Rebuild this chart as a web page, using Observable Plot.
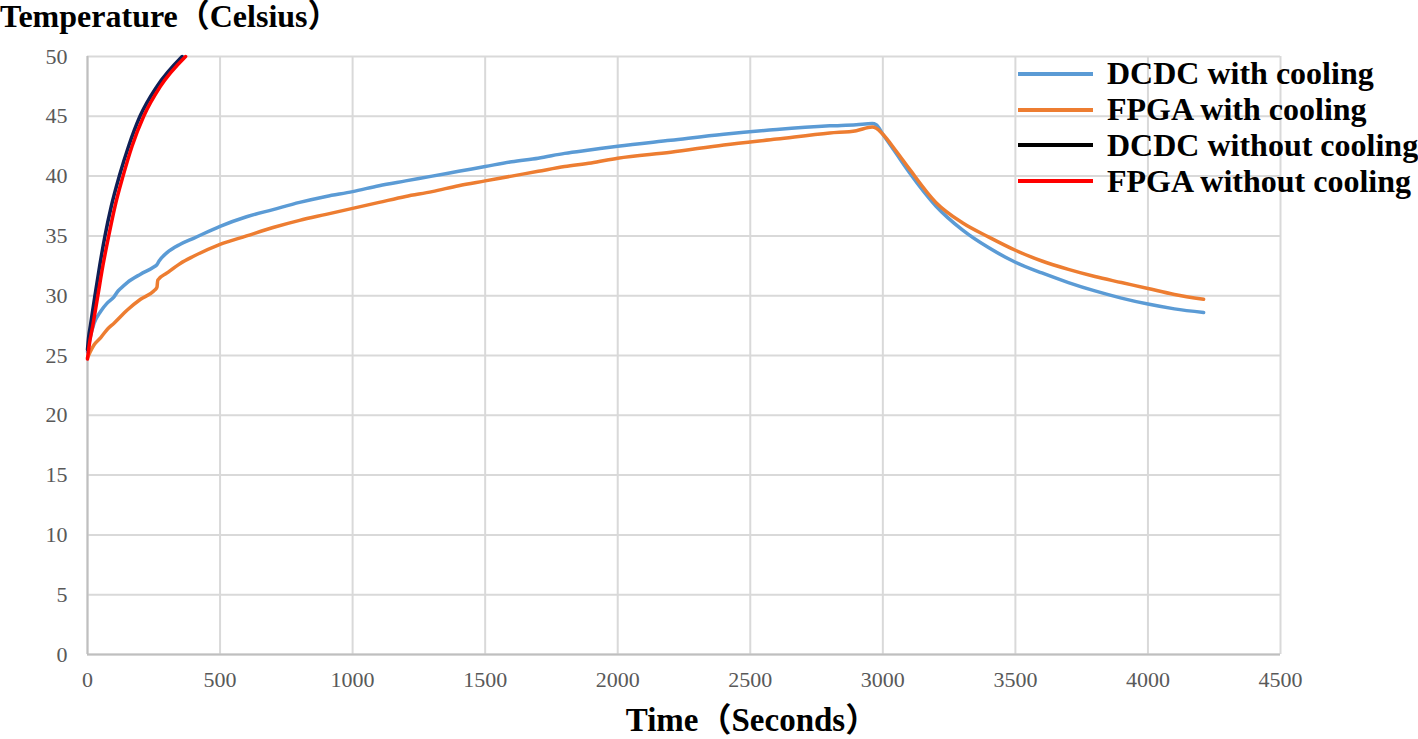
<!DOCTYPE html>
<html>
<head>
<meta charset="utf-8">
<script src="https://cdn.jsdelivr.net/npm/d3@7"></script>
<script src="https://cdn.jsdelivr.net/npm/@observablehq/plot@0.6"></script>
<style>
  html, body { margin: 0; padding: 0; background: #fff; }
  #wrap { position: relative; width: 1418px; height: 739px; overflow: hidden; }
  #title { position: absolute; left: 0; top: 0px; font: bold 32px/32px "Liberation Serif", "Noto Sans CJK SC", serif; color: #000; white-space: nowrap; }
  #chart { position: absolute; left: 0; top: 40px; }
  #xlabel { position: absolute; left: 10px; width: 1484px; top: 704px; text-align: center; font: bold 33px/33px "Liberation Serif", "Noto Sans CJK SC", serif; color: #000; white-space: nowrap; }
  #legend { position: absolute; left: 1018px; top: 56px; font: bold 32px "Liberation Serif", serif; color: #000; }
  #legend .row { display: flex; align-items: center; height: 35.8px; white-space: nowrap; }
  #legend .sw { width: 75px; height: 4px; margin-right: 14px; }
  #chart svg text { font-family: "Liberation Serif", serif; }
</style>
</head>
<body>
<div id="wrap">
  <div id="title">Temperature（Celsius）</div>
  <div id="chart"></div>
  <div id="legend"></div>
  <div id="xlabel">Time（Seconds）</div>
</div>
<script>
const xTicks = [0, 500, 1000, 1500, 2000, 2500, 3000, 3500, 4000, 4500];
const yTicks = [0, 5, 10, 15, 20, 25, 30, 35, 40, 45, 50];

const seriesNames = ["DCDC with cooling", "FPGA with cooling", "DCDC without cooling", "FPGA without cooling"];
const seriesColors = ["#5b9bd5", "#ed7d31", "#0f1f55", "#ff0000"];
const legendColors = ["#5b9bd5", "#ed7d31", "#000000", "#ff0000"];

// DCDC with cooling
const dcdcCoolT = [0, 10, 25, 50, 75, 100, 112, 125, 150, 200, 250, 262, 270, 300, 350, 400, 500, 600, 700, 800, 900, 1000, 1100, 1200, 1300, 1400, 1500, 1600, 1700, 1800, 1900, 2000, 2200, 2400, 2600, 2800, 2900, 2960, 2975, 3000, 3050, 3100, 3200, 3300, 3400, 3500, 3600, 3700, 3800, 3900, 4000, 4100, 4210];
const dcdcCoolV = [25.3, 26.5, 27.7, 28.7, 29.4, 29.9, 30.3, 30.6, 31.1, 31.8, 32.4, 32.6, 32.9, 33.6, 34.3, 34.8, 35.8, 36.6, 37.2, 37.8, 38.3, 38.7, 39.2, 39.6, 40.0, 40.4, 40.8, 41.2, 41.5, 41.9, 42.2, 42.5, 43.0, 43.5, 43.9, 44.2, 44.3, 44.4, 44.3, 43.5, 41.9, 40.3, 37.5, 35.5, 34.0, 32.8, 31.9, 31.1, 30.4, 29.8, 29.3, 28.9, 28.6];

// FPGA with cooling
const fpgaCoolT = [0, 10, 25, 50, 75, 100, 150, 200, 250, 262, 265, 300, 350, 400, 500, 600, 700, 800, 900, 1000, 1100, 1200, 1300, 1400, 1500, 1600, 1700, 1800, 1900, 2000, 2200, 2400, 2600, 2800, 2900, 2960, 2975, 3000, 3050, 3100, 3200, 3300, 3400, 3500, 3600, 3700, 3800, 3900, 4000, 4100, 4210];
const fpgaCoolV = [24.8, 25.3, 25.9, 26.5, 27.2, 27.7, 28.8, 29.7, 30.4, 30.7, 31.3, 31.9, 32.7, 33.3, 34.3, 35.0, 35.7, 36.3, 36.8, 37.3, 37.8, 38.3, 38.7, 39.2, 39.6, 40.0, 40.4, 40.8, 41.1, 41.5, 42.0, 42.6, 43.1, 43.6, 43.8, 44.1, 44.0, 43.5, 42.1, 40.6, 37.8, 36.1, 34.9, 33.8, 32.9, 32.2, 31.6, 31.1, 30.6, 30.1, 29.7];

// DCDC without cooling
const dcdcNoT = [0, 4, 11, 28, 46, 66, 90, 120, 155, 198, 262, 357];
const dcdcNoV = [25.5, 26.5, 27.5, 30.0, 32.5, 35.0, 37.5, 40.0, 42.5, 45.0, 47.5, 50.0];

// FPGA without cooling
const fpgaNoT = [0, 6, 20, 39, 58, 80, 104, 134, 168, 212, 275, 370];
const fpgaNoV = [24.7, 25.8, 27.5, 30.0, 32.5, 35.0, 37.5, 40.0, 42.5, 45.0, 47.5, 50.0];

const seriesT = [dcdcCoolT, fpgaCoolT, dcdcNoT, fpgaNoT];
const seriesV = [dcdcCoolV, fpgaCoolV, dcdcNoV, fpgaNoV];

const rows = [];
seriesNames.forEach((name, i) => {
  seriesT[i].forEach((t, j) => rows.push({series: name, t, v: seriesV[i][j]}));
});

const chart = Plot.plot({
  width: 1418,
  height: 660,
  marginLeft: 87,
  marginRight: 138,
  marginTop: 16,
  marginBottom: 46,
  style: {fontSize: "22px", fontFamily: "Liberation Serif, serif", background: "#fff"},
  x: {domain: [0, 4500], ticks: xTicks, label: null},
  y: {domain: [0, 50], ticks: yTicks, label: null},
  color: {domain: seriesNames, range: seriesColors},
  marks: [
    Plot.ruleX(xTicks, {stroke: "#d9d9d9", strokeWidth: 2}),
    Plot.ruleY(yTicks, {stroke: "#d9d9d9", strokeWidth: 2}),
    Plot.ruleX([0], {stroke: "#bfbfbf", strokeWidth: 2}),
    Plot.ruleY([0], {stroke: "#bfbfbf", strokeWidth: 2}),
    Plot.axisX({ticks: xTicks, tickSize: 0, tickPadding: 17, fill: "#595959", fontSize: 22, tickFormat: d => String(d), label: null}),
    Plot.axisY({ticks: yTicks, tickSize: 0, tickPadding: 20, fill: "#595959", fontSize: 22, tickFormat: d => String(d), label: null}),
    Plot.line(rows, {x: "t", y: "v", z: "series", stroke: "series", strokeWidth: 3.5, curve: "monotone-x"})
  ]
});
document.getElementById("chart").appendChild(chart);

const legend = document.getElementById("legend");
seriesNames.forEach((name, i) => {
  const row = document.createElement("div");
  row.className = "row";
  const sw = document.createElement("div");
  sw.className = "sw";
  sw.style.background = legendColors[i];
  const label = document.createElement("span");
  label.textContent = name;
  row.appendChild(sw);
  row.appendChild(label);
  legend.appendChild(row);
});
</script>
</body>
</html>
